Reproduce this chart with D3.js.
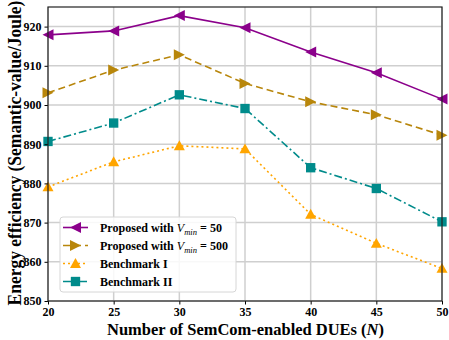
<!DOCTYPE html>
<html>
<head>
<meta charset="utf-8">
<script src="https://cdn.jsdelivr.net/npm/d3@7"></script>
<style>
  body { margin: 0; background: #fff; }
  svg text { font-family: "Liberation Serif", "Times New Roman", serif; font-weight: bold; }
</style>
</head>
<body>
<div id="chart"></div>
<script>
// data
var users = [20, 25, 30, 35, 40, 45, 50];
var proposed50 = [917.9, 918.9, 922.8, 919.7, 913.5, 908.2, 901.5];
var proposed500 = [903.1, 908.9, 912.8, 905.5, 900.8, 897.5, 892.3];
var benchmark1 = [879.1, 885.5, 889.6, 888.8, 872.1, 864.7, 858.3];
var benchmark2 = [890.7, 895.4, 902.6, 899.1, 884.0, 878.7, 870.2];
var yTicks = [850, 860, 870, 880, 890, 900, 910, 920];

var margin = {top: 7, right: 7, bottom: 39, left: 48},
    width = 449 - margin.left - margin.right,
    height = 340 - margin.top - margin.bottom;

var svg = d3.select('#chart').append('svg')
    .attr('width', 449)
    .attr('height', 340);

var g = svg.append('g')
    .attr('transform', 'translate(' + margin.left + ',' + margin.top + ')');

var x = d3.scaleLinear().domain([20, 50]).range([0, width]);
var y = d3.scaleLinear().domain([850, 925]).range([height, 0]);

// grid
g.append('g').selectAll('line')
    .data(users)
  .enter().append('line')
    .attr('x1', function(d) { return x(d); })
    .attr('x2', function(d) { return x(d); })
    .attr('y1', 0).attr('y2', height)
    .attr('stroke', '#cfcfcf').attr('stroke-width', 1.5);

g.append('g').selectAll('line')
    .data(yTicks)
  .enter().append('line')
    .attr('y1', function(d) { return y(d); })
    .attr('y2', function(d) { return y(d); })
    .attr('x1', 0).attr('x2', width)
    .attr('stroke', '#cfcfcf').attr('stroke-width', 1.5);

var series = [
  {name: 'p50', values: proposed50, color: '#8b008b', dash: null, marker: 'left'},
  {name: 'p500', values: proposed500, color: '#b8860b', dash: '7,4', marker: 'right'},
  {name: 'b1', values: benchmark1, color: '#ffa500', dash: '2,3', marker: 'up'},
  {name: 'b2', values: benchmark2, color: '#008b8b', dash: '8,3,2,3', marker: 'square'}
];

function markerPath(type, s) {
  if (type === 'left') return 'M' + (-s) + ',0L' + s + ',' + (-s) + 'L' + s + ',' + s + 'Z';
  if (type === 'right') return 'M' + s + ',0L' + (-s) + ',' + (-s) + 'L' + (-s) + ',' + s + 'Z';
  if (type === 'up') return 'M0,' + (-s) + 'L' + s + ',' + (s * 0.8) + 'L' + (-s) + ',' + (s * 0.8) + 'Z';
  var q = s * 0.85;
  return 'M' + (-q) + ',' + (-q) + 'H' + q + 'V' + q + 'H' + (-q) + 'Z';
}

var line = d3.line()
    .x(function(d, i) { return x(users[i]); })
    .y(function(d) { return y(d); });

var plot = g.append('g');

series.forEach(function(s) {
  plot.append('path')
      .datum(s.values)
      .attr('d', line)
      .attr('fill', 'none')
      .attr('stroke', s.color)
      .attr('stroke-width', 1.6)
      .attr('stroke-dasharray', s.dash);
  plot.selectAll('.m-' + s.name)
      .data(s.values)
    .enter().append('path')
      .attr('class', 'm-' + s.name)
      .attr('transform', function(d, i) { return 'translate(' + x(users[i]) + ',' + y(d) + ')'; })
      .attr('d', markerPath(s.marker, 5.5))
      .attr('fill', s.color);
});

// axes
var xAxis = g.append('g')
    .attr('transform', 'translate(0,' + height + ')')
    .call(d3.axisBottom(x).tickValues(users).tickFormat(d3.format('d')).tickSize(3.5).tickPadding(3));
var yAxis = g.append('g')
    .call(d3.axisLeft(y).tickValues(yTicks).tickFormat(d3.format('d')).tickSize(3.5).tickPadding(3));

[xAxis, yAxis].forEach(function(a) {
  a.select('.domain').remove();
  a.selectAll('text').attr('font-size', 12).attr('fill', '#000')
    .style('font-family', '"Liberation Serif", serif').style('font-weight', 'bold');
  a.selectAll('line').attr('stroke', '#000');
});

g.append('rect')
    .attr('width', width).attr('height', height)
    .attr('fill', 'none').attr('stroke', '#222').attr('stroke-width', 1.2);

// axis titles (the original font is narrower, so squeeze along the text)
svg.append('text')
    .attr('x', 107)
    .attr('y', 335)
    .attr('font-size', 16.5)
    .attr('textLength', 277)
    .attr('lengthAdjust', 'spacingAndGlyphs')
    .html('Number of SemCom-enabled DUEs (<tspan font-style="italic">N</tspan>)');

svg.append('text')
    .attr('transform', 'translate(20.5,153) rotate(-90) scale(0.92,1)')
    .attr('text-anchor', 'middle')
    .attr('font-size', 19)
    .text('Energy efficiency (Semantic-value/Joule)');

// legend
var legendLabels = [
  {pre: 'Proposed with ', val: ' = 50', len: 122},
  {pre: 'Proposed with ', val: ' = 500', len: 128},
  {pre: 'Benchmark I'},
  {pre: 'Benchmark II'}
];

var legend = g.append('g')
    .attr('transform', 'translate(' + (60 - margin.left) + ',' + (217 - margin.top) + ')');

legend.append('rect')
    .attr('width', 176).attr('height', 75)
    .attr('rx', 3)
    .attr('fill', 'rgba(255,255,255,0.85)')
    .attr('stroke', '#d6d6d6').attr('stroke-width', 1);

var items = legend.selectAll('.item')
    .data(series)
  .enter().append('g')
    .attr('class', 'item')
    .attr('transform', function(d, i) { return 'translate(0,' + (10.5 + i * 18) + ')'; });

items.append('line')
    .attr('x1', 3).attr('x2', 28)
    .attr('stroke', function(d) { return d.color; })
    .attr('stroke-width', 1.6)
    .attr('stroke-dasharray', function(d) { return d.dash; });

items.append('path')
    .attr('transform', 'translate(15.5,0)')
    .attr('d', function(d) { return markerPath(d.marker, 5.5); })
    .attr('fill', function(d) { return d.color; });

items.append('text')
    .attr('x', 40)
    .attr('dy', '0.35em')
    .attr('font-size', 12)
    .each(function(d, i) {
      var t = d3.select(this), lab = legendLabels[i];
      t.append('tspan').text(lab.pre);
      if (lab.val) {
        t.attr('textLength', lab.len).attr('lengthAdjust', 'spacingAndGlyphs');
        t.append('tspan').attr('font-style', 'italic').style('font-weight', 'normal').text('V');
        t.append('tspan').attr('font-style', 'italic').style('font-weight', 'normal')
          .attr('font-size', 8.5).attr('dy', 3).text('min');
        t.append('tspan').attr('dy', -3).text(lab.val);
      }
    });
</script>
</body>
</html>
